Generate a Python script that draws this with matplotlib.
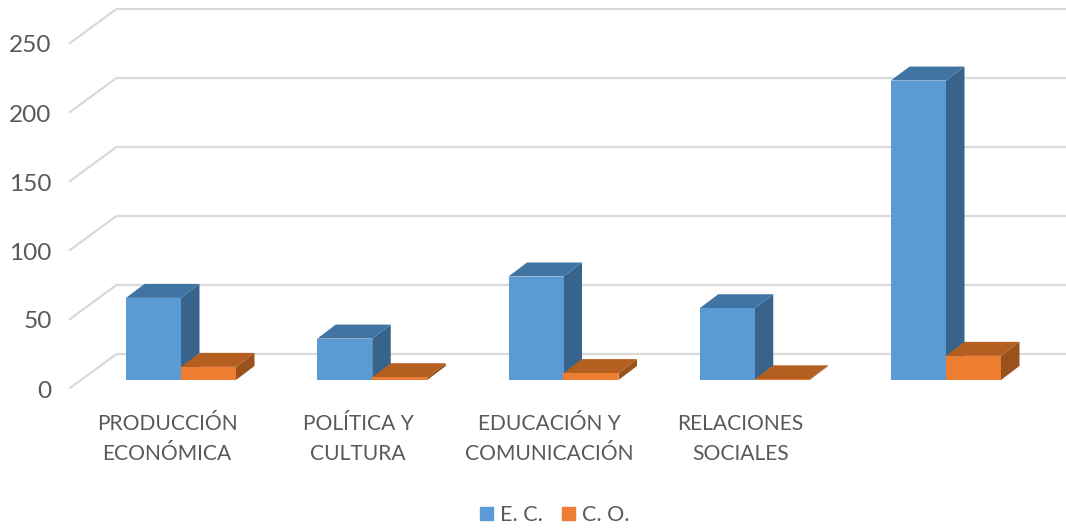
import matplotlib
matplotlib.use("Agg")
import matplotlib.pyplot as plt
from matplotlib.patches import Patch

categories = ["PRODUCCIÓN\nECONÓMICA", "POLÍTICA Y\nCULTURA", "EDUCACIÓN Y\nCOMUNICACIÓN", "RELACIONES\nSOCIALES", ""]
ec_values = [59.5, 30, 75, 52, 217]
co_values = [9.5, 2, 5, 0.5, 17.5]
y_ticks = [0, 50, 100, 150, 200, 250]

W, H = 1066, 529
PX_X, PX_Y = 191.25, 1.38
GRID, TXT = "#D9D9D9", "#595959"
BW = 55 / PX_X
DX, DY = 18.5 / PX_X, 14 / PX_Y

plt.rcParams["font.family"] = ["Lato", "DejaVu Sans"]
fig = plt.figure(figsize=(W / 100, H / 100), dpi=100)
ax = fig.add_axes([0, 0, 1, 1])
ax.set_xlim(-181 / PX_X, (W - 181) / PX_X)
ax.set_ylim((380 - H) / PX_Y, 380 / PX_Y)
ax.axis("off")

BACK_X, FRONT_X = -64.5 / PX_X, -111 / PX_X
BACK_Y, FRONT_Y = 26 / PX_Y, -8 / PX_Y
for v in y_ticks:
    ax.plot([FRONT_X, BACK_X, ax.get_xlim()[1]],
            [v + FRONT_Y, v + BACK_Y, v + BACK_Y],
            color=GRID, lw=1.6, solid_joinstyle="miter", zorder=1)
    ax.text(-129.5 / PX_X, v + FRONT_Y - 3 / PX_Y, str(v), color=TXT, fontsize=17.6,
            ha="right", va="center", zorder=5)


def box(x0, value, front, top, side, z):
    x1 = x0 + BW
    ax.bar(x0, value, BW, align="edge", color=front, edgecolor="none", zorder=z + 0.2)
    ax.fill([x0, x1, x1 + DX, x0 + DX], [value, value, value + DY, value + DY],
            color=top, lw=0, zorder=z + 0.1)
    ax.fill([x1, x1 + DX, x1 + DX, x1], [0, DY, value + DY, value],
            color=side, lw=0, zorder=z)


for i, (a, b) in enumerate(zip(ec_values, co_values)):
    box(i - BW, a, "#5B9BD5", "#4174A3", "#38648C", 2 + i)
    box(i, b, "#ED7D31", "#B45F20", "#9A521C", 2.5 + i)
    if categories[i]:
        ax.text(i - 14 / PX_X, -34 / PX_Y, categories[i], color=TXT, fontsize=15.1,
                ha="center", va="top", linespacing=1.6, zorder=5)

handles = [Patch(color="#5B9BD5", label="E. C."), Patch(color="#ED7D31", label="C. O.")]
ax.legend(handles=handles, loc="center", bbox_to_anchor=(554.5 / W, 1 - 515 / H),
          ncol=2, frameon=False, fontsize=15.5, labelcolor=TXT,
          handlelength=0.6, handleheight=0.6, handletextpad=0.33,
          columnspacing=0.88, borderpad=0, borderaxespad=0)

fig.savefig("out.png", dpi=100)
